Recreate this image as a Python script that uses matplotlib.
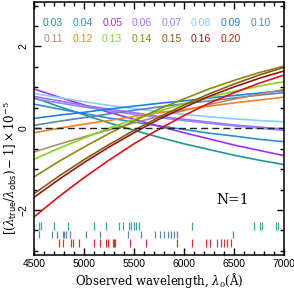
import matplotlib
matplotlib.use('Agg')
import matplotlib.pyplot as plt
from matplotlib.ticker import MultipleLocator

plt.rcParams['mathtext.fontset'] = 'dejavuserif'

# wavelength grid the curves were read at
wave = [4500, 4750, 5000, 5250, 5500, 5750, 6000, 6250, 6500, 6750, 7000]

z_labels = ['0.03', '0.04', '0.05', '0.06', '0.07', '0.08', '0.09', '0.10',
            '0.11', '0.12', '0.13', '0.14', '0.15', '0.16', '0.20']
colors = ['#1a9a8f', '#2a8fd4', '#9b30ff', '#a070ff', '#8a8aff', '#87cefa',
          '#1e80e8', '#5f84ad', '#b38b6d', '#f58220', '#7fd81c', '#8a8a10',
          '#8b5a10', '#8b1a1a', '#e01010']

# [(lambda_true/lambda_obs)-1] x 1e5, one row per z
offsets = [
    [0.75, 0.53, 0.33, 0.13, -0.05, -0.22, -0.38, -0.52, -0.66, -0.78, -0.89],
    [0.59, 0.47, 0.36, 0.25, 0.15, 0.06, -0.03, -0.12, -0.19, -0.27, -0.33],
    [0.96, 0.76, 0.57, 0.39, 0.22, 0.05, -0.11, -0.26, -0.41, -0.54, -0.67],
    [0.78, 0.67, 0.56, 0.47, 0.38, 0.29, 0.22, 0.15, 0.08, 0.03, -0.02],
    [0.72, 0.62, 0.52, 0.43, 0.34, 0.26, 0.19, 0.12, 0.06, 0.00, -0.05],
    [0.85, 0.75, 0.65, 0.56, 0.48, 0.41, 0.34, 0.28, 0.23, 0.19, 0.16],
    [0.24, 0.32, 0.39, 0.47, 0.54, 0.61, 0.67, 0.74, 0.80, 0.86, 0.92],
    [0.07, 0.17, 0.26, 0.35, 0.44, 0.52, 0.60, 0.67, 0.74, 0.81, 0.87],
    [-0.58, -0.39, -0.21, -0.04, 0.13, 0.29, 0.43, 0.58, 0.71, 0.83, 0.95],
    [-0.11, 0.00, 0.10, 0.19, 0.29, 0.38, 0.46, 0.54, 0.62, 0.69, 0.76],
    [-0.76, -0.49, -0.24, 0.00, 0.22, 0.42, 0.60, 0.76, 0.90, 1.03, 1.14],
    [-1.19, -0.81, -0.46, -0.13, 0.18, 0.47, 0.72, 0.96, 1.17, 1.36, 1.52],
    [-1.60, -1.17, -0.77, -0.40, -0.05, 0.27, 0.57, 0.84, 1.08, 1.30, 1.49],
    [-1.69, -1.25, -0.84, -0.46, -0.11, 0.22, 0.51, 0.78, 1.01, 1.22, 1.40],
    [-2.17, -1.67, -1.21, -0.78, -0.38, -0.02, 0.31, 0.61, 0.87, 1.10, 1.30],
]

# line positions shown as rug ticks at the bottom
lines_teal = [4550, 4567, 4701, 4840, 5096, 5221, 5350, 5385, 5447, 5471,
              5497, 5521, 5554, 6080, 6698, 6764, 6780, 6918, 6935]
lines_steel = [4553, 4684, 4734, 4788, 4801, 4818, 4861, 5019, 5163, 5441,
               5566, 5705, 5755, 5800, 5838, 5865, 5899, 5933, 6491]
lines_red = [4754, 4794, 4868, 4885, 4952, 5102, 5156, 5220, 5236, 5290,
             5303, 5313, 5464, 5622, 5925, 6080, 6220, 6258, 6334, 6366,
             6395, 6426, 6470]

fig = plt.figure(figsize=(2.94, 2.89), dpi=100)
ax = fig.add_axes([34/294, 1-255/289, 250/294, 253.5/289])

for off, c in zip(offsets, colors):
    ax.plot(wave, off, color=c, lw=1.2)

ax.axhline(0, color='#222222', lw=1.0, ls=(0, (5, 3)))

ax.vlines(lines_teal, -2.48, -2.30, color='#3aa8a0', lw=0.9)
ax.vlines(lines_steel, -2.68, -2.52, color='#5f84ad', lw=0.9)
ax.vlines(lines_red, -2.90, -2.72, color='#e03030', lw=0.9)

for i, (lab, c) in enumerate(zip(z_labels, colors)):
    row, col = divmod(i, 8)
    ax.text(0.076 + 0.1185*col, 0.915 - 0.061*row, lab, color=c,
            transform=ax.transAxes, ha='center', va='center',
            fontsize=7.5, family='Liberation Sans')

ax.text(6490, -1.75, 'N=1', family='DejaVu Serif', fontsize=10,
        ha='center', va='center')

ax.set_xlim(4500, 7000)
ax.set_ylim(-3.1, 3.1)
ax.xaxis.set_major_locator(MultipleLocator(500))
ax.xaxis.set_minor_locator(MultipleLocator(100))
ax.yaxis.set_major_locator(MultipleLocator(2))
ax.yaxis.set_minor_locator(MultipleLocator(0.5))
ax.tick_params(which='both', direction='in', top=True, right=True, width=1)
ax.tick_params(which='major', length=5)
ax.tick_params(which='minor', length=3)
ax.tick_params(axis='x', pad=3, labelsize=7.5)
ax.tick_params(axis='y', pad=4, labelsize=7.5, labelrotation=90)
for lab in ax.get_xticklabels() + ax.get_yticklabels():
    lab.set_family('Liberation Sans')
for lab in ax.get_yticklabels():
    lab.set_va('center')
for sp in ax.spines.values():
    sp.set_linewidth(1.1)

ax.set_xlabel(r'Observed wavelength, $\lambda_0$(Å)', family='DejaVu Serif',
              fontsize=8.5, labelpad=1)
ax.set_ylabel(r'$[(\lambda_{\mathsf{true}}/\lambda_{\mathsf{obs}})-1]\times10^{-5}$',
              family='DejaVu Serif', fontsize=8.5)
ax.yaxis.set_label_coords(-0.058, 0.345)

fig.savefig('out.png', dpi=100)
